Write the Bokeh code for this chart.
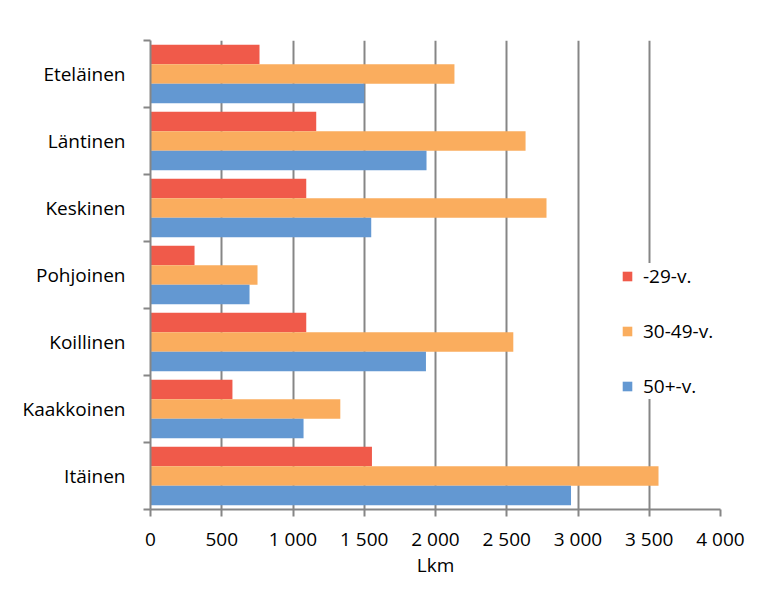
from bokeh.plotting import figure
from bokeh.models import ColumnDataSource, Range1d, FixedTicker, Legend, LegendItem
from bokeh.transform import dodge
from bokeh.embed import file_html
from bokeh.resources import INLINE

# ---- data ----
regions = ["Eteläinen", "Läntinen", "Keskinen", "Pohjoinen", "Koillinen", "Kaakkoinen", "Itäinen"]
series_names = ["-29-v.", "30-49-v.", "50+-v."]
young = [765, 1163, 1093, 309, 1093, 575, 1554]
middle = [2133, 2632, 2779, 751, 2546, 1332, 3565]
older = [1500, 1937, 1549, 695, 1933, 1074, 2951]
x_ticks = [0, 500, 1000, 1500, 2000, 2500, 3000, 3500, 4000]
x_tick_labels = ["0", "500", "1 000", "1 500", "2 000", "2 500", "3 000", "3 500", "4 000"]
colors = ["#F05A4A", "#FAAD5E", "#6398D2"]

FONT = "Open Sans"
FS = "19px"
n = len(regions)
ypos = [n - i - 0.5 for i in range(n)]
src = ColumnDataSource(dict(y=ypos, young=young, middle=middle, older=older))

p = figure(width=753, height=585, output_backend="svg", toolbar_location=None,
           x_range=Range1d(0, 4000), y_range=Range1d(0, n),
           min_border_left=150, min_border_right=33, min_border_top=40, min_border_bottom=76)
p.outline_line_color = None
p.background_fill_color = "white"
p.border_fill_color = "white"

bh = 0.29
r1 = p.hbar(y=dodge("y", bh, range=p.y_range), right="young", left=0, height=bh,
            source=src, fill_color=colors[0], line_color=None)
r2 = p.hbar(y=dodge("y", 0, range=p.y_range), right="middle", left=0, height=bh,
            source=src, fill_color=colors[1], line_color=None)
r3 = p.hbar(y=dodge("y", -bh, range=p.y_range), right="older", left=0, height=bh,
            source=src, fill_color=colors[2], line_color=None)

# x axis
p.xaxis.ticker = FixedTicker(ticks=x_ticks)
p.xaxis.major_label_overrides = {t: l for t, l in zip(x_ticks, x_tick_labels)}
p.xaxis.axis_label = "Lkm"
p.xaxis.axis_label_text_font = FONT
p.xaxis.axis_label_text_font_size = FS
p.xaxis.axis_label_text_font_style = "normal"
p.xaxis.axis_label_text_color = "black"
p.xaxis.axis_label_standoff = -3
p.xaxis.major_label_text_font = FONT
p.xaxis.major_label_text_font_size = FS
p.xaxis.major_label_text_color = "black"
p.xaxis.major_label_standoff = 9
p.xaxis.axis_line_color = "#868686"
p.xaxis.axis_line_width = 2
p.xaxis.major_tick_line_color = "#868686"
p.xaxis.major_tick_line_width = 2
p.xaxis.major_tick_out = 7
p.xaxis.major_tick_in = 0
p.xaxis.minor_tick_line_color = None

# y axis: labels at centres, ticks at group boundaries
p.yaxis.ticker = FixedTicker(ticks=ypos, minor_ticks=list(range(n + 1)))
p.yaxis.major_label_overrides = {y: r for y, r in zip(ypos, regions)}
p.yaxis.major_label_text_font = FONT
p.yaxis.major_label_text_font_size = FS
p.yaxis.major_label_text_color = "black"
p.yaxis.major_tick_line_color = None
p.yaxis.major_tick_out = 0
p.yaxis.major_tick_in = 0
p.yaxis.major_label_standoff = 18
p.yaxis.minor_tick_line_color = "#868686"
p.yaxis.minor_tick_line_width = 2
p.yaxis.minor_tick_out = 7
p.yaxis.minor_tick_in = 0
p.yaxis.axis_line_color = "#868686"
p.yaxis.axis_line_width = 2

p.xgrid.ticker = FixedTicker(ticks=x_ticks[1:])
p.xgrid.grid_line_color = "#868686"
p.xgrid.grid_line_width = 2
p.ygrid.visible = False

legend = Legend(items=[LegendItem(label=series_names[0], renderers=[r1]),
                       LegendItem(label=series_names[1], renderers=[r2]),
                       LegendItem(label=series_names[2], renderers=[r3])],
                location=(471, 110))
legend.border_line_color = None
legend.background_fill_color = "white"
legend.background_fill_alpha = 1.0
legend.padding = 20
legend.margin = 0
legend.spacing = 29
legend.glyph_width = 12
legend.glyph_height = 12
legend.label_height = 20
legend.label_standoff = 10
legend.label_text_font = FONT
legend.label_text_font_size = FS
legend.label_text_color = "black"
p.add_layout(legend, "center")

open("out.html", "w").write(file_html(p, INLINE))
